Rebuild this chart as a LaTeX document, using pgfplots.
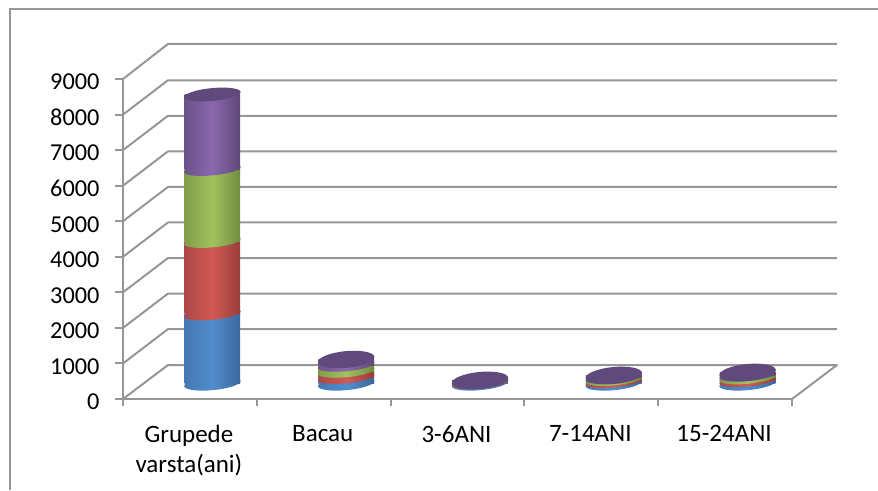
\documentclass[border=0pt]{standalone}
\usepackage{fontspec}
\setmainfont{Carlito}
\usepackage{pgfplots}
\usepackage{pgfplotstable}
\pgfplotsset{compat=1.18}

\definecolor{gridgray}{HTML}{969696}
\definecolor{topviolet}{HTML}{604A7B}

\newcommand{\sideshade}[4]{%
  \pgfdeclarehorizontalshading{#1}{100bp}{%
    rgb(0bp)=(#2);rgb(25bp)=(#2);rgb(50bp)=(#3);rgb(75bp)=(#4);rgb(100bp)=(#4)}}
\sideshade{sblue}{.27,.47,.70}{.32,.55,.80}{.23,.41,.62}
\sideshade{sred}{.68,.28,.27}{.82,.35,.33}{.60,.24,.23}
\sideshade{sgreen}{.50,.62,.28}{.63,.76,.37}{.44,.55,.25}
\sideshade{sviolet}{.42,.32,.54}{.54,.41,.68}{.37,.28,.47}

% tilted ellipse, the end of a cylinder segment; #1 is its short half axis
\newcommand{\discpath}[1]{\pgfpathellipse{\pgfpointorigin}{\pgfqpoint{28.2pt}{2.7pt}}{\pgfpoint{-0.77pt}{#1}}}
% a segment hangs below its stacked value: side from the column height, then the next segment's rim
\newcommand{\segside}[1]{%
  \pgfmathsetlengthmacro{\hh}{\segh*0.035556}%
  \pgfpathrectanglecorners{\pgfpoint{-27.8pt}{0pt}}{\pgfpoint{27.8pt}{-\hh}}%
  \pgfshadepath{#1}{0}\pgfusepath{discard}}
\newcommand{\segmark}[3]{%
  \pgfdeclareplotmark{#1}{%
    \segside{#2}%
    \discpath{5.8pt}\pgfshadepath{#3}{0}\pgfusepath{discard}}}
\segmark{mblue}{sblue}{sred}
\segmark{mred}{sred}{sgreen}
\segmark{mgreen}{sgreen}{sviolet}
\pgfdeclareplotmark{mbase}{\discpath{6.6pt}\pgfshadepath{sblue}{0}\pgfusepath{discard}}
% the top ellipse looks flatter the higher it stands
\pgfdeclareplotmark{mviolet}{%
  \segside{sviolet}%
  \pgfmathsetlengthmacro{\bb}{8.5-\stacky*0.00026}%
  \discpath{\bb}\pgfsetfillcolor{topviolet}\pgfusepathqfill}

\pgfplotstableread{
x base blue red green violet
1 0 1955 2038 2025 2109
2 0 170 170 170 165
3 0 20 20 20 25
4 0 55 55 55 60
5 0 80 75 75 80
}\cyl

\pgfplotsset{
  common/.style={
    scale only axis, width=669pt, height=320pt, clip=false,
    xmin=0.5, xmax=5.5, ymin=0, ymax=9000},
  gline/.style={draw=gridgray, line width=2pt, line join=round, no markers},
  seg/.style={scatter, only marks, mark=#1},
}

\begin{document}
\begin{tikzpicture}[x=1pt,y=1pt]
\useasboundingbox (0,0) rectangle (878,490);
\draw[gridgray, line width=2pt] (9.5,0) -- (9.5,480.5) -- (878,480.5);

\begin{axis}[common, at={(123pt,91pt)}, anchor=south west,
    axis lines=left,
    axis line style={-, draw=gridgray, line width=2pt},
    tick style={draw=gridgray, line width=2pt},
    tick align=outside,
    ytick={0,1000,...,9000},
    major tick length=8pt,
    y tick label style={font=\fontsize{24.3}{29.6}\selectfont, /pgf/number format/assume math mode=true, /pgf/number format/1000 sep={}, xshift=-12pt, yshift=-3pt},
    xtick={1,2,3,4,5},
    xticklabels={{Grupede\\varsta(ani)},Bacau,3-6ANI,7-14ANI,15-24ANI},
    x tick label style={font=\fontsize{25}{29.6}\selectfont, align=center, text width=125pt, xshift=-1pt, yshift=-15pt},
    x tick style={draw=none},
    minor xtick={0.5,1.5,2.5,3.5,4.5,5.5},
    minor x tick style={draw=gridgray, line width=2pt},
    minor tick length=7pt,
  ]
  \addplot[gline, unbounded coords=jump] coordinates {
    (0.5,0)(0.836,955)(5.836,955)(5.5,0)
    (nan,nan)
    (0.5,1000)(0.836,1965)(5.836,1965)
    (nan,nan)
    (0.5,2000)(0.836,2965)(5.836,2965)
    (nan,nan)
    (0.5,3000)(0.836,3965)(5.836,3965)
    (nan,nan)
    (0.5,4000)(0.836,4965)(5.836,4965)
    (nan,nan)
    (0.5,5000)(0.836,5965)(5.836,5965)
    (nan,nan)
    (0.5,6000)(0.836,6965)(5.836,6965)
    (nan,nan)
    (0.5,7000)(0.836,7965)(5.836,7965)
    (nan,nan)
    (0.5,8000)(0.836,8965)(5.836,8965)
    (nan,nan)
    (0.5,9000)(0.836,9985)(5.836,9985)
  };
\end{axis}

% cylinders sit half the depth behind the front plane
\begin{axis}[common, at={(145.5pt,106.5pt)}, anchor=south west,
    hide axis,
    stack plots=y, reverse stacked plots=false,
  ]
  \addplot[only marks, mark=mbase] table[x=x,y=base] {\cyl};
  \addplot[seg=mblue, visualization depends on={\thisrow{blue}\as\segh}] table[x=x,y=blue] {\cyl};
  \addplot[seg=mred, visualization depends on={\thisrow{red}\as\segh}] table[x=x,y=red] {\cyl};
  \addplot[seg=mgreen, visualization depends on={\thisrow{green}\as\segh}] table[x=x,y=green] {\cyl};
  \addplot[seg=mviolet, visualization depends on={\thisrow{violet}\as\segh},
           visualization depends on={\thisrow{blue}+\thisrow{red}+\thisrow{green}+\thisrow{violet}\as\stacky}] table[x=x,y=violet] {\cyl};
\end{axis}
\end{tikzpicture}
\end{document}
